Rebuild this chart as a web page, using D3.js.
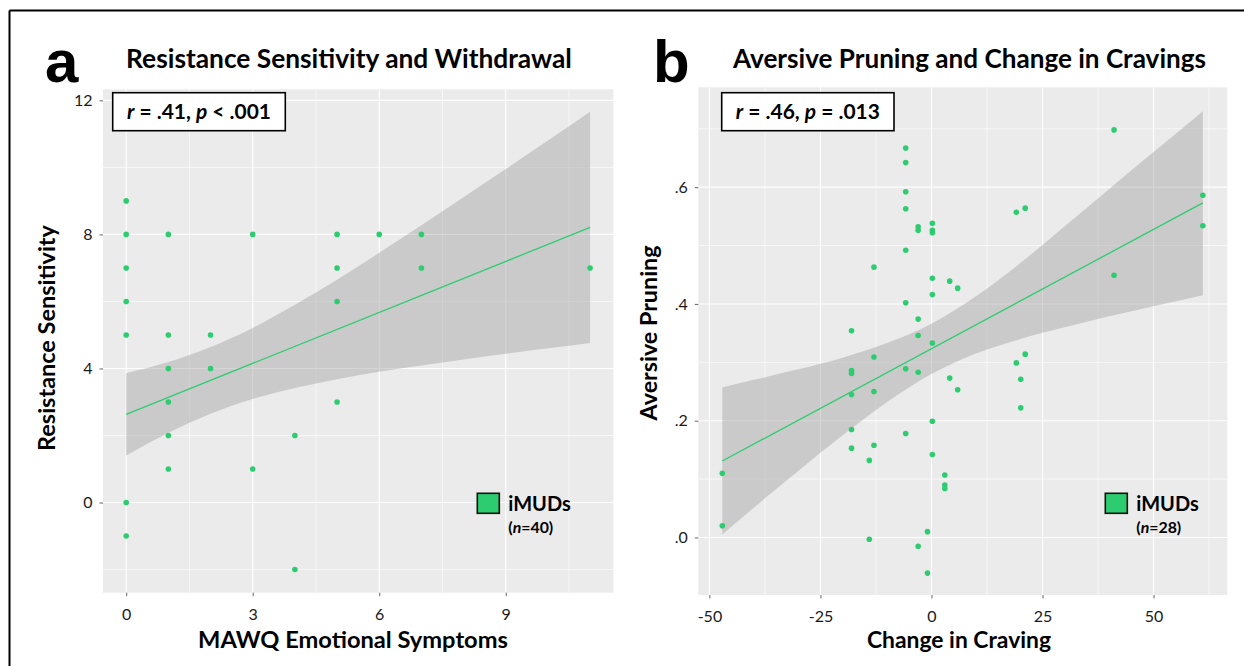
<!DOCTYPE html>
<html><head><meta charset="utf-8">
<script src="https://cdn.jsdelivr.net/npm/d3@7"></script>
<style>html,body{margin:0;padding:0;background:#fff;}svg{display:block;}</style>
</head><body>
<svg id="c" width="1244" height="666"></svg>
<script>
// ---------- DATA ----------
// Panel a: MAWQ Emotional Symptoms (x) vs Resistance Sensitivity (y)
const aX = [0,0,0,0,0,0,0, 1,1,1,1,1,1, 2,2, 3,3, 4,4, 5,5,5,5, 6, 7,7, 11];
const aY = [9,8,7,6,5,0,-1, 8,5,4,3,2,1, 5,4, 8,1, 2,-2, 8,7,6,3, 8, 8,7, 7];
const aFitX = [0, 11];
const aFitY = [2.63, 8.21];
const aBandX  = [0,1,2,3,4,5,6,7,8,9,10,11];
const aBandLo = [1.40,2.08,2.65,3.09,3.42,3.68,3.90,4.09,4.27,4.44,4.60,4.76];
const aBandHi = [3.86,4.19,4.64,5.21,5.90,6.65,7.45,8.27,9.11,9.95,10.80,11.66];
const aXTicks = [0,3,6,9];
const aXMinor = [1.5,4.5,7.5,10.5];
const aYTicks = [0,4,8,12];
const aYMinor = [-2,2,6,10];

// Panel b: Change in Craving (x) vs Aversive Pruning (y)
const bX = [-5.8,-5.8,-5.8,-5.8,-3.0,-3.0,0.2,0.2,0.2,-5.8,-12.95,0.2,4.1,5.9,0.2,-5.8,-3.0,-18,-3.0,0.2,
            -12.95,-18,-18,-5.8,-3.0,4.1,5.9,-18,-12.95,0.2,-18,-5.8,-18,-12.95,-14,0.2,3.0,3.0,3.0,-47.1,
            -47.1,-14,-0.9,-3.0,-0.9,41.1,61.1,61.1,19.1,21.1,41.1,21.1,19.1,20.1,20.1];
const bY = [0.667,0.642,0.592,0.563,0.532,0.526,0.538,0.526,0.522,0.492,0.463,0.444,0.439,0.427,0.416,0.402,0.374,0.354,0.346,0.333,
            0.309,0.286,0.281,0.289,0.283,0.273,0.253,0.245,0.250,0.199,0.185,0.178,0.153,0.158,0.132,0.142,0.107,0.090,0.084,0.110,
            0.020,-0.003,0.010,-0.015,-0.061,0.698,0.586,0.534,0.557,0.564,0.449,0.314,0.299,0.271,0.222];
const bFitX = [-47.1, 61.1];
const bFitY = [0.131, 0.573];
const bBandX  = [-47.1,-40,-30,-20,-10,0,10,20,30,40,50,61.1];
const bBandLo = [0.005,0.051,0.114,0.175,0.232,0.280,0.315,0.340,0.360,0.379,0.396,0.415];
const bBandHi = [0.257,0.270,0.288,0.308,0.333,0.366,0.413,0.470,0.533,0.597,0.660,0.730];
const bXTicks = [-50,-25,0,25,50];
const bXMinor = [-37.5,-12.5,12.5,37.5,62.5];
const bYTicks = [0,0.2,0.4,0.6];
const bYMinor = [0.1,0.3,0.5,0.7];

const panels = [
  {letter:"a", title:"Resistance Sensitivity and Withdrawal", xTitle:"MAWQ Emotional Symptoms", yTitle:"Resistance Sensitivity",
   stat:[["r","i"],[" = .41, ",""],["p","i"],[" < .001",""]], n:"40",
   xs:aX, ys:aY, fitX:aFitX, fitY:aFitY, bandX:aBandX, bandLo:aBandLo, bandHi:aBandHi,
   xT:aXTicks, xM:aXMinor, yT:aYTicks, yM:aYMinor, fmtY:d=>String(d),
   xDom:[-0.55,11.55], yDom:[-2.69,12.33], L:103, R:613.3, T:89.3, B:592.7,
   letterX:45, titleX:349, titleW:446, xTitleX:353, xTitleW:310, yTitleW:226, yTitleX:55, yTitleY:338,
   box:[112.7,92.7,172.6,38], leg:[477.3,493.3]},
  {letter:"b", title:"Aversive Pruning and Change in Cravings", xTitle:"Change in Craving", yTitle:"Aversive Pruning",
   stat:[["r","i"],[" = .46, ",""],["p","i"],[" = .013",""]], n:"28",
   xs:bX, ys:bY, fitX:bFitX, fitY:bFitY, bandX:bBandX, bandLo:bBandLo, bandHi:bBandHi,
   xT:bXTicks, xM:bXMinor, yT:bYTicks, yM:bYMinor, fmtY:d=>d3.format(".1f")(d).replace("0.","."),
   xDom:[-52.5,66.6], yDom:[-0.0985,0.771], L:698.3, R:1227.3, T:87.3, B:595,
   letterX:653, titleX:969.5, titleW:473, xTitleX:959, xTitleW:184, yTitleW:175, yTitleX:657, yTitleY:333,
   box:[721.7,92.7,172.3,38], leg:[1105.3,493.3]}
];

const GREEN = "#2ecc71";
const svg = d3.select("#c");

// figure border
svg.append("line").attr("x1",9.5).attr("y1",10.5).attr("x2",1244).attr("y2",10.5).attr("stroke","#000").attr("stroke-width",2);
svg.append("line").attr("x1",9.5).attr("y1",10.5).attr("x2",9.5).attr("y2",666).attr("stroke","#000").attr("stroke-width",2);

function fit(sel, w){
  const cur = parseFloat(sel.attr("font-size"));
  const len = sel.node().getComputedTextLength();
  sel.attr("font-size", (cur*w/len).toFixed(2));
}

panels.forEach(p=>{
  const x = d3.scaleLinear().domain(p.xDom).range([p.L,p.R]);
  const y = d3.scaleLinear().domain(p.yDom).range([p.B,p.T]);
  const g = svg.append("g");

  g.append("rect").attr("x",p.L).attr("y",p.T).attr("width",p.R-p.L).attr("height",p.B-p.T).attr("fill","#ebebeb");
  // minor grid
  p.xM.forEach(v=>g.append("line").attr("x1",x(v)).attr("x2",x(v)).attr("y1",p.T).attr("y2",p.B).attr("stroke","#fff").attr("stroke-width",0.6));
  p.yM.forEach(v=>g.append("line").attr("y1",y(v)).attr("y2",y(v)).attr("x1",p.L).attr("x2",p.R).attr("stroke","#fff").attr("stroke-width",0.6));
  // major grid
  p.xT.forEach(v=>g.append("line").attr("x1",x(v)).attr("x2",x(v)).attr("y1",p.T).attr("y2",p.B).attr("stroke","#fff").attr("stroke-width",1.1));
  p.yT.forEach(v=>g.append("line").attr("y1",y(v)).attr("y2",y(v)).attr("x1",p.L).attr("x2",p.R).attr("stroke","#fff").attr("stroke-width",1.1));

  // axes
  const xAxis = d3.axisBottom(x).tickValues(p.xT).tickSize(3.5).tickPadding(12).tickFormat(d=>String(d));
  const xa = g.append("g").attr("transform",`translate(0,${p.B})`).call(xAxis);
  const yAxis = d3.axisLeft(y).tickValues(p.yT).tickSize(3.5).tickPadding(7).tickFormat(p.fmtY);
  const ya = g.append("g").attr("transform",`translate(${p.L},0)`).call(yAxis);
  [xa,ya].forEach(a=>{
    a.select(".domain").remove();
    a.selectAll(".tick line").attr("stroke","#666");
    a.selectAll(".tick text").attr("font-family","Lato").attr("font-size",16).attr("fill","#1a1a1a");
  });
  xa.selectAll(".tick text").attr("dy","0.71em");

  // band
  const band = p.bandX.map((v,i)=>({x:v,lo:p.bandLo[i],hi:p.bandHi[i]}));
  g.append("path").datum(band)
    .attr("d", d3.area().x(d=>x(d.x)).y0(d=>y(d.lo)).y1(d=>y(d.hi)).curve(d3.curveMonotoneX))
    .attr("fill","#999").attr("fill-opacity",0.4);

  // points
  g.selectAll("circle.pt").data(p.xs.map((v,i)=>[v,p.ys[i]])).join("circle")
    .attr("cx",d=>x(d[0])).attr("cy",d=>y(d[1])).attr("r",2.8).attr("fill",GREEN);

  // fit line
  g.append("path").datum(p.fitX.map((v,i)=>[v,p.fitY[i]]))
    .attr("d", d3.line().x(d=>x(d[0])).y(d=>y(d[1])))
    .attr("stroke",GREEN).attr("stroke-width",1.3).attr("fill","none");

  // stat box
  g.append("rect").attr("x",p.box[0]).attr("y",p.box[1]).attr("width",p.box[2]).attr("height",p.box[3])
    .attr("fill","#fff").attr("stroke","#000").attr("stroke-width",1.6);
  const st = g.append("text").attr("x",p.box[0]+p.box[2]/2).attr("y",p.box[1]+26.5).attr("text-anchor","middle")
    .attr("font-family","Lato").attr("font-weight","bold").attr("font-size",20).attr("fill","#000");
  p.stat.forEach(s=>st.append("tspan").text(s[0]).attr("font-style",s[1]==="i"?"italic":"normal"));
  fit(st,144);

  // legend
  g.append("rect").attr("x",p.leg[0]).attr("y",p.leg[1]).attr("width",22).attr("height",20)
    .attr("fill",GREEN).attr("stroke","#111").attr("stroke-width",1.6);
  const lt = g.append("text").attr("x",p.leg[0]+31).attr("y",p.leg[1]+17.5)
    .attr("font-family","Lato").attr("font-weight","bold").attr("font-size",20).attr("fill","#000").text("iMUDs");
  fit(lt,62.5);
  const nt = g.append("text").attr("x",p.leg[0]+31).attr("y",p.leg[1]+39.5)
    .attr("font-family","Lato").attr("font-weight","bold").attr("font-size",13).attr("fill","#000");
  nt.append("tspan").text("(");
  nt.append("tspan").text("n").attr("font-style","italic");
  nt.append("tspan").text("="+p.n+")");
  fit(nt,45);

  // titles
  const tt = g.append("text").attr("x",p.titleX).attr("y",68).attr("text-anchor","middle")
    .attr("font-family","Lato").attr("font-weight","bold").attr("font-size",23).attr("fill","#000").text(p.title);
  fit(tt,p.titleW);
  g.append("text").attr("x",p.letterX).attr("y",82)
    .attr("font-family","Liberation Sans").attr("font-weight","bold").attr("font-size",60).attr("fill","#000").text(p.letter);

  const xt = g.append("text").attr("x",p.xTitleX).attr("y",648).attr("text-anchor","middle")
    .attr("font-family","Lato").attr("font-weight","bold").attr("font-size",22).attr("fill","#000").text(p.xTitle);
  fit(xt,p.xTitleW);
  const yt = g.append("text").attr("transform",`translate(${p.yTitleX},${p.yTitleY}) rotate(-90)`).attr("text-anchor","middle")
    .attr("font-family","Lato").attr("font-weight","bold").attr("font-size",22).attr("fill","#000").text(p.yTitle);
  fit(yt,p.yTitleW);
});
</script>
</body></html>
